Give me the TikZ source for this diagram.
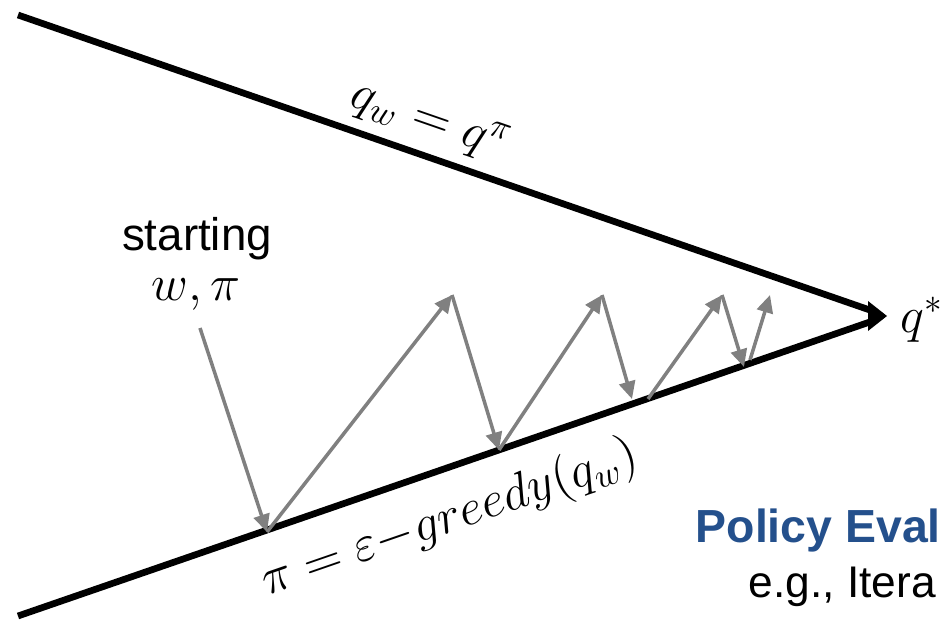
\documentclass[tikz,border=0pt]{standalone}
\usepackage[no-math]{fontspec}
\setsansfont{Liberation Sans}
\usepackage{xcolor}
\definecolor{evalblue}{HTML}{24508C}
\definecolor{zig}{HTML}{808080}
\usetikzlibrary{arrows.meta,calc}
\newcommand{\sflabel}[1]{\sffamily\fontsize{#1}{#1}\selectfont}

\begin{document}
\begin{tikzpicture}[x=0.01cm,y=-0.01cm,line join=miter,
  bound/.style={black,line width=1.9pt},
  hop/.style={zig,line width=1pt,-{Triangle[length=5pt,width=4.6pt]}},
  mathlbl/.style={font=\fontsize{14.5}{14.5}\selectfont,inner sep=0pt}]
  \useasboundingbox (0,0) rectangle (942,621);
  % the two bounds of the wedge
  \coordinate (topL) at (18,15);
  \coordinate (botL) at (18,616);
  \coordinate (apex) at (887,316);
  \draw[bound] (topL) -- ($(apex)+(-10,-3.5)$);
  \draw[bound] (botL) -- ($(apex)+(-10,3.5)$);
  \fill (apex) -- ++(-19,-15) -- ++(0,30) -- cycle;
  \node[mathlbl,anchor=base west] (qstar) at (900,332) {$q^*$};
  \node[mathlbl,rotate=-19.1] (evallbl) at (430,121) {$q_w = q^\pi$};
  \node[mathlbl,rotate=19.05] (greedylbl) at (450,519) {$\pi = \varepsilon{-}greedy(q_w)$};
  % start
  \node[font=\sflabel{13},anchor=base,inner sep=0pt] (start) at (197,250) {starting};
  \node[font=\fontsize{13.5}{13.5}\selectfont,anchor=base,inner sep=0pt] (wpi) at (196,300) {$w,\pi$};
  % zig-zag between the bounds
  \coordinate (p0) at (200,328);
  \coordinate (p1) at (267,532);
  \coordinate (p2) at (452,295);
  \coordinate (p3) at (499,450);
  \coordinate (p4) at (602,295);
  \coordinate (p5) at (632,399);
  \coordinate (p5b) at (648,399);
  \coordinate (p6) at (722,295);
  \coordinate (p7) at (744,367);
  \coordinate (p7b) at (750,360);
  \coordinate (p8) at (770,295);
  \foreach \a/\b in {p0/p1,p1/p2,p2/p3,p3/p4,p4/p5,p5b/p6,p6/p7,p7b/p8}{\draw[hop] (\a) -- (\b);}
  % right corner
  \node[font=\sflabel{13.2}\bfseries,text=evalblue,anchor=base west,inner sep=0pt] (evalhead) at (695,542) {Policy Eval};
  \node[font=\sflabel{12.6},anchor=base west,inner sep=0pt] (evalsub) at (748,597) {e.g., Itera};
\end{tikzpicture}
\end{document}
